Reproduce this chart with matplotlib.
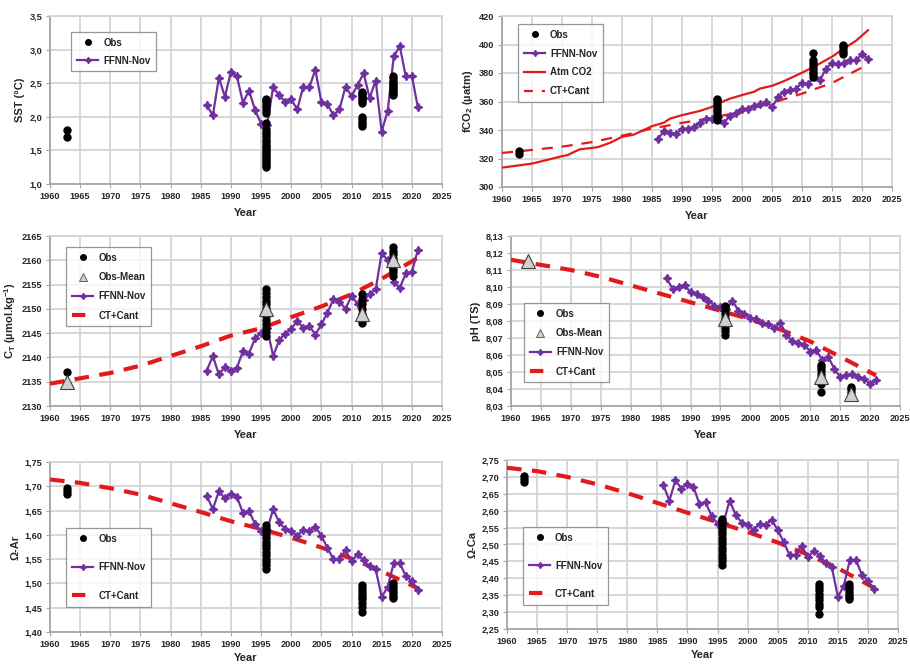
import numpy as np
import matplotlib
matplotlib.use("Agg")
import matplotlib.pyplot as plt
from matplotlib.lines import Line2D
from matplotlib.ticker import FuncFormatter, MultipleLocator

plt.rcParams['font.family'] = ['Liberation Sans', 'DejaVu Sans']
plt.rcParams['font.weight'] = 'bold'
plt.rcParams['mathtext.fontset'] = 'custom'
plt.rcParams['mathtext.rm'] = 'Liberation Sans:bold'
plt.rcParams['mathtext.it'] = 'Liberation Sans:bold'
plt.rcParams['mathtext.bf'] = 'Liberation Sans:bold'

# ---- data ----
ffnn_years = list(range(1986, 2022))

sst_ffnn = [2.17, 2.02, 2.58, 2.30, 2.67, 2.60, 2.21, 2.39, 2.10, 1.90, 1.88, 2.44,
            2.32, 2.22, 2.26, 2.11, 2.45, 2.44, 2.70, 2.22, 2.19, 2.02, 2.11, 2.45,
            2.31, 2.47, 2.65, 2.28, 2.54, 1.78, 2.09, 2.90, 3.05, 2.60, 2.61, 2.14]

fco2_ffnn = [334, 339, 338, 337, 341, 341, 342, 345, 348, 348, 349, 345,
             350, 352, 355, 355, 357, 358, 360, 356, 363, 367, 368, 369,
             373, 372, 377, 375, 383, 387, 386, 387, 389, 389, 393, 390]

ct_ffnn = [2137.3, 2140.3, 2136.5, 2138.0, 2137.2, 2137.9, 2141.3, 2140.8, 2143.9, 2145.0,
           2146.0, 2140.3, 2143.5, 2144.9, 2145.8, 2147.6, 2146.0, 2146.5, 2144.7, 2146.8,
           2149.2, 2152.0, 2151.5, 2150.0, 2152.7, 2151.0, 2151.8, 2153.0, 2154.0, 2161.5,
           2160.0, 2155.5, 2154.3, 2157.3, 2157.6, 2162.1]

ph_ffnn = [8.105, 8.099, 8.100, 8.101, 8.097, 8.096, 8.094, 8.092, 8.089, 8.088,
           8.087, 8.092, 8.086, 8.084, 8.082, 8.081, 8.079, 8.078, 8.076, 8.079,
           8.072, 8.068, 8.067, 8.066, 8.062, 8.063, 8.057, 8.059, 8.052, 8.047,
           8.048, 8.049, 8.047, 8.046, 8.043, 8.045]

ar_ffnn = [1.680, 1.653, 1.690, 1.675, 1.685, 1.678, 1.645, 1.650, 1.622, 1.608,
           1.610, 1.653, 1.626, 1.612, 1.607, 1.598, 1.610, 1.607, 1.617, 1.598,
           1.573, 1.550, 1.551, 1.568, 1.546, 1.560, 1.548, 1.535, 1.529, 1.472,
           1.493, 1.542, 1.542, 1.515, 1.505, 1.486]

ca_ffnn = [2.675, 2.630, 2.690, 2.665, 2.680, 2.670, 2.620, 2.625, 2.585, 2.562,
           2.565, 2.630, 2.588, 2.565, 2.558, 2.543, 2.562, 2.558, 2.573, 2.543,
           2.507, 2.468, 2.470, 2.497, 2.462, 2.480, 2.467, 2.445, 2.433, 2.345,
           2.378, 2.455, 2.455, 2.410, 2.393, 2.368]

# atmospheric CO2 (solid red, fCO2 panel)
atm_years = [1960, 1965, 1970, 1971, 1972, 1973, 1975, 1976, 1978, 1980, 1982, 1985, 1987,
             1988, 1990, 1993, 1995, 1996, 1998, 2000, 2002, 2003, 2005, 2007, 2010,
             2012, 2015, 2017, 2019, 2021]
atm_co2 = [313.6, 316.4, 321.6, 322.5, 324.6, 326.5, 327.4, 328.0, 331.0, 335.2, 336.8,
           342.7, 345.2, 348.0, 350.4, 353.4, 356.2, 358.6, 362.0, 364.5, 366.8, 369.1,
           371.0, 374.3, 380.2, 384.4, 391.4, 397.3, 402.6, 410.0]

# CT+Cant reconstructions
cant_years = [1960, 1965, 1970, 1975, 1980, 1985, 1990, 1995, 2000, 2005, 2010, 2015, 2021]
fco2_cant = [323.9, 326.0, 328.3, 331.5, 336.0, 341.0, 345.0, 348.5, 353.0, 359.0, 365.5, 373.0, 386.0]
ct_cant = [2134.6, 2135.7, 2136.8, 2138.3, 2140.3, 2142.3, 2144.5, 2146.0, 2148.3, 2150.5,
           2153.0, 2156.2, 2160.5]
ph_cant = [8.116, 8.113, 8.110, 8.106, 8.101, 8.096, 8.091, 8.086, 8.081, 8.075, 8.068, 8.059, 8.048]
ar_cant = [1.714, 1.707, 1.696, 1.683, 1.665, 1.647, 1.628, 1.612, 1.594, 1.574, 1.551, 1.525, 1.490]
ca_cant = [2.727, 2.717, 2.700, 2.678, 2.652, 2.623, 2.594, 2.566, 2.537, 2.506, 2.470, 2.430, 2.372]

# observation cruises
obs_years = [1962.9, 1995.8, 2011.8, 2016.8]

sst_obs = [[1.70, 1.80],
           [1.25, 1.28, 1.31, 1.34, 1.37, 1.40, 1.43, 1.46, 1.49, 1.52, 1.55, 1.58, 1.62,
            1.66, 1.70, 1.74, 1.78, 1.82, 1.91, 2.05, 2.10, 2.14, 2.18, 2.22, 2.25, 2.27],
           [1.87, 1.90, 1.93, 1.96, 1.99, 2.20, 2.23, 2.26, 2.29, 2.32, 2.35, 2.37],
           [2.33, 2.36, 2.39, 2.42, 2.45, 2.48, 2.51, 2.54, 2.57, 2.60]]

fco2_obs = [[323, 325],
            [347, 349, 351, 353, 355, 357, 359, 361, 362],
            [377, 379, 381, 383, 385, 387, 389, 394],
            [393, 395, 397, 399, 400]]

ct_obs = [[2134.5, 2137.0],
          [2144.5, 2145.3, 2146.1, 2146.9, 2147.7, 2148.5, 2149.3, 2150.1, 2150.9,
           2151.7, 2152.5, 2153.3, 2154.0],
          [2147.0, 2148.0, 2149.0, 2150.0, 2151.0, 2152.0, 2153.0],
          [2156.8, 2157.5, 2158.3, 2159.0, 2159.8, 2160.5, 2161.3, 2162.0, 2162.8]]
ct_mean = [2135.0, 2150.0, 2149.0, 2160.0]

ph_obs = [[],
          [8.072, 8.074, 8.076, 8.078, 8.080, 8.082, 8.084, 8.086, 8.088, 8.089],
          [8.038, 8.043, 8.045, 8.047, 8.049, 8.051, 8.053, 8.054],
          [8.036, 8.038, 8.040, 8.041]]
ph_mean = [8.115, 8.081, 8.047, 8.037]

ar_obs = [[1.685, 1.690, 1.697],
          [1.530, 1.537, 1.544, 1.551, 1.558, 1.565, 1.572, 1.579, 1.586, 1.593,
           1.600, 1.607, 1.614, 1.620],
          [1.441, 1.452, 1.460, 1.467, 1.473, 1.479, 1.485, 1.491, 1.497],
          [1.470, 1.475, 1.480, 1.485, 1.490, 1.495, 1.500]]

ca_obs = [[2.685, 2.693, 2.702],
          [2.440, 2.450, 2.460, 2.470, 2.480, 2.490, 2.500, 2.510, 2.520, 2.530,
           2.540, 2.550, 2.560, 2.570, 2.575],
          [2.295, 2.315, 2.325, 2.335, 2.345, 2.355, 2.365, 2.375, 2.382],
          [2.338, 2.345, 2.352, 2.360, 2.368, 2.375, 2.382]]

PURPLE = '#7030A0'
RED = '#E31A1C'
GRID = '#D4D4D4'
TXT = '#262626'

W, H = 910, 667
fig = plt.figure(figsize=(W / 100, H / 100), dpi=100)


def make_ax(x0, x1, y0, y1):
    return fig.add_axes([x0 / W, 1 - y1 / H, (x1 - x0) / W, (y1 - y0) / H])


def style(ax, ylim, ystep, ylabel, ndec, xpad=5):
    ax.set_xlim(1960, 2025)
    ax.set_ylim(*ylim)
    ax.xaxis.set_major_locator(MultipleLocator(5))
    ax.yaxis.set_major_locator(MultipleLocator(ystep))
    ax.yaxis.set_major_formatter(FuncFormatter(lambda v, p: f"{v:.{ndec}f}".replace('.', ',')))
    ax.grid(True, color=GRID, lw=1.3)
    ax.set_axisbelow(True)
    for s in ax.spines.values():
        s.set_color(GRID)
        s.set_linewidth(1.3)
    ax.spines['left'].set_color('#A6A6A6')
    ax.spines['bottom'].set_color('#A6A6A6')
    ax.tick_params(labelsize=6.6, colors=TXT, length=3, color='#A6A6A6', pad=2.5)
    for lab in ax.get_xticklabels() + ax.get_yticklabels():
        lab.set_fontweight('bold')
    ax.set_xlabel('Year', fontsize=8, fontweight='bold', color=TXT, labelpad=xpad)
    ax.set_ylabel(ylabel, fontsize=8, fontweight='bold', color=TXT, labelpad=3)


def plot_obs(ax, vals):
    for yr, col in zip(obs_years, vals):
        if col:
            ax.plot([yr] * len(col), col, 'o', color='black', ms=5, zorder=5)


def plot_mean(ax, vals):
    ax.plot(obs_years, vals, '^', ms=9.5, mfc='#D0D0D0', mec='#404040', mew=0.8,
            ls='none', zorder=6)


def plot_ffnn(ax, vals):
    ax.plot(ffnn_years, vals, color=PURPLE, lw=1.6, marker=(4, 1, 0), ms=6, zorder=4)


def plot_cant(ax, vals, lw=3.0, dashes=(3.5, 2.5)):
    ax.plot(cant_years, vals, color=RED, lw=lw, ls=(0, dashes), zorder=3)


LEG_HANDLES = {
    'Obs': Line2D([], [], ls='none', marker='o', color='black', ms=4),
    'Obs-Mean': Line2D([], [], ls='none', marker='^', ms=6, mfc='#D0D0D0', mec='#606060', mew=0.7),
    'FFNN-Nov': Line2D([], [], color=PURPLE, lw=1.6, marker=(4, 1, 0), ms=4.5),
    'Atm CO2': Line2D([], [], color=RED, lw=1.6),
    'CT+Cant': Line2D([], [], color=RED, lw=3.0, ls=(0, (3.2, 3.0))),
    'CT+Cant thin': Line2D([], [], color=RED, lw=1.6, ls=(0, (4, 4))),
}


def legend(ax, x0, y0, order, spacing, thin=False):
    hs = []
    for k in order:
        if k == 'CT+Cant' and thin:
            hs.append(LEG_HANDLES['CT+Cant thin'])
        else:
            hs.append(LEG_HANDLES[k])
    lg = ax.legend(hs, order, loc='upper left',
                   bbox_to_anchor=(x0, y0), numpoints=1, fontsize=7,
                   frameon=True, fancybox=False, edgecolor='#7F7F7F',
                   labelspacing=spacing, handlelength=2.2, borderpad=0.6,
                   handletextpad=0.5, borderaxespad=0)
    lg.get_frame().set_linewidth(0.9)
    for t in lg.get_texts():
        t.set_color(TXT)
        t.set_fontweight('bold')
    lg.set_zorder(10)


# --- SST ---
ax1 = make_ax(50, 442, 16, 184)
plot_ffnn(ax1, sst_ffnn)
plot_obs(ax1, sst_obs)
style(ax1, (1.0, 3.5), 0.5, 'SST (°C)', 1)
legend(ax1, 0.054, 0.905, ['Obs', 'FFNN-Nov'], 0.8)

# --- fCO2 ---
ax2 = make_ax(502, 892, 16, 187)
ax2.plot(atm_years, atm_co2, color=RED, lw=1.6, zorder=3)
plot_cant(ax2, fco2_cant, lw=1.6, dashes=(5, 4))
plot_ffnn(ax2, fco2_ffnn)
plot_obs(ax2, fco2_obs)
style(ax2, (300, 420), 20, 'fCO$_2$ (µatm)', 0)
legend(ax2, 0.041, 0.953, ['Obs', 'FFNN-Nov', 'Atm CO2', 'CT+Cant'], 0.9, thin=True)

# --- CT ---
ax3 = make_ax(50, 442, 236, 406)
plot_cant(ax3, ct_cant)
plot_ffnn(ax3, ct_ffnn)
plot_obs(ax3, ct_obs)
plot_mean(ax3, ct_mean)
style(ax3, (2130, 2165), 5, 'C$_T$ (µmol.kg$^{-1}$)', 0)
legend(ax3, 0.041, 0.935, ['Obs', 'Obs-Mean', 'FFNN-Nov', 'CT+Cant'], 0.95)

# --- pH ---
ax4 = make_ax(511, 900, 236, 406)
plot_cant(ax4, ph_cant)
plot_ffnn(ax4, ph_ffnn)
plot_obs(ax4, ph_obs)
plot_mean(ax4, ph_mean)
style(ax4, (8.03, 8.13), 0.01, 'pH (TS)', 2)
legend(ax4, 0.033, 0.606, ['Obs', 'Obs-Mean', 'FFNN-Nov', 'CT+Cant'], 0.95)

# --- Omega Ar ---
ax5 = make_ax(50, 442, 462, 632)
plot_cant(ax5, ar_cant)
plot_ffnn(ax5, ar_ffnn)
plot_obs(ax5, ar_obs)
style(ax5, (1.40, 1.75), 0.05, 'Ω-Ar', 2, xpad=3)
legend(ax5, 0.041, 0.612, ['Obs', 'FFNN-Nov', 'CT+Cant'], 1.9)

# --- Omega Ca ---
ax6 = make_ax(507, 898, 460, 629)
plot_cant(ax6, ca_cant)
plot_ffnn(ax6, ca_ffnn)
plot_obs(ax6, ca_obs)
style(ax6, (2.25, 2.75), 0.05, 'Ω-Ca', 2, xpad=3)
legend(ax6, 0.041, 0.604, ['Obs', 'FFNN-Nov', 'CT+Cant'], 1.85)

fig.savefig('out.png', dpi=100)
